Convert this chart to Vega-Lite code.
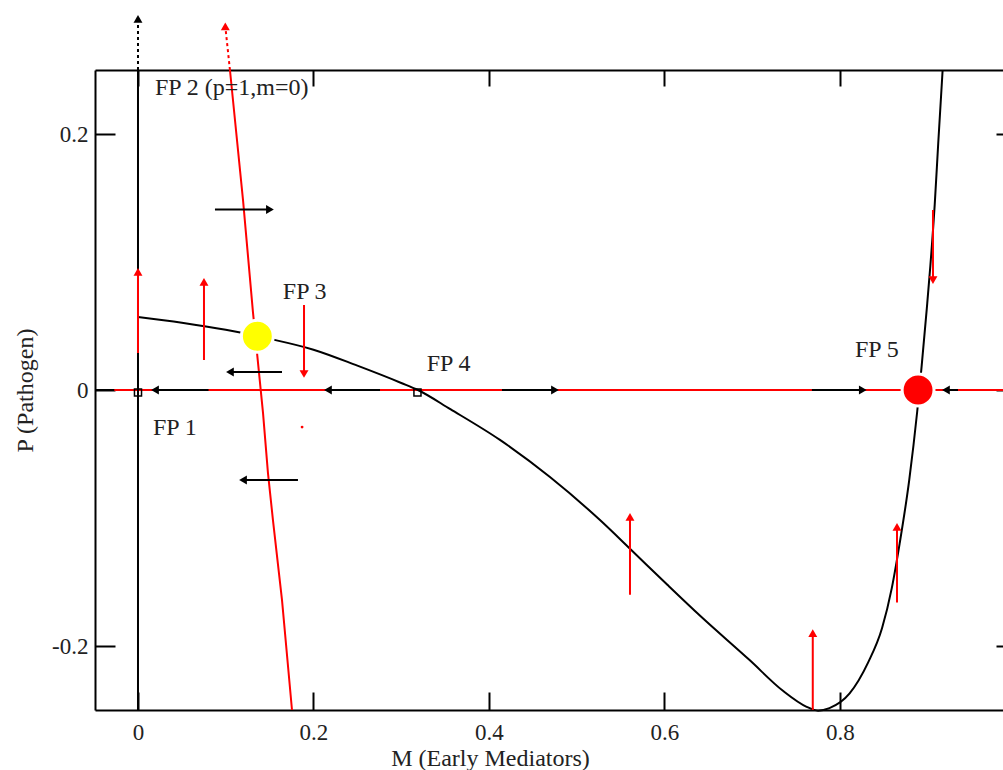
{
  "$schema": "https://vega.github.io/schema/vega-lite/v6.json",
  "width": 908,
  "height": 640,
  "autosize": {"type": "none"},
  "padding": {"left": 95, "top": 70, "right": 0, "bottom": 60},
  "background": "white",
  "config": {
    "view": {"stroke": null},
    "font": "Liberation Serif",
    "axis": {
      "grid": false,
      "domainColor": "black",
      "domainWidth": 2,
      "tickColor": "black",
      "tickWidth": 2,
      "labelFont": "Liberation Serif",
      "labelFontSize": 23,
      "labelColor": "#222222",
      "titleFont": "Liberation Serif",
      "titleFontSize": 24,
      "titleFontWeight": "normal",
      "titleColor": "#222222"
    }
  },
  "datasets": {
    "mcurve": [
      {"m": 0, "p": 0.057}, {"m": 0.05, "p": 0.0525}, {"m": 0.1, "p": 0.047},
      {"m": 0.15, "p": 0.04}, {"m": 0.2, "p": 0.0315}, {"m": 0.25, "p": 0.019},
      {"m": 0.3, "p": 0.0055}, {"m": 0.319, "p": 0},
      {"m": 0.356, "p": -0.015}, {"m": 0.4125, "p": -0.039}, {"m": 0.4695, "p": -0.068},
      {"m": 0.5265, "p": -0.1016}, {"m": 0.5607, "p": -0.124}, {"m": 0.603, "p": -0.152},
      {"m": 0.64, "p": -0.176}, {"m": 0.697, "p": -0.211}, {"m": 0.735, "p": -0.235},
      {"m": 0.762, "p": -0.2475}, {"m": 0.775, "p": -0.2505}, {"m": 0.788, "p": -0.2485},
      {"m": 0.811, "p": -0.237}, {"m": 0.832, "p": -0.213}, {"m": 0.848, "p": -0.186},
      {"m": 0.859, "p": -0.155}, {"m": 0.868, "p": -0.12}, {"m": 0.879, "p": -0.07},
      {"m": 0.888, "p": -0.017}, {"m": 0.8905, "p": 0}, {"m": 0.893, "p": 0.018},
      {"m": 0.899, "p": 0.064}, {"m": 0.903, "p": 0.097}, {"m": 0.908, "p": 0.145},
      {"m": 0.912, "p": 0.193}, {"m": 0.917, "p": 0.25}
    ],
    "pcurve": [
      {"m": 0.1048, "p": 0.25}, {"m": 0.1197, "p": 0.1484}, {"m": 0.1311, "p": 0.0602},
      {"m": 0.1425, "p": -0.018}, {"m": 0.1481, "p": -0.0648}, {"m": 0.1538, "p": -0.1016},
      {"m": 0.1641, "p": -0.164}, {"m": 0.1755, "p": -0.25}
    ],
    "arrows": [
      {"x": 0.0804, "y": 0, "x2": 0.0194, "y2": 0, "kind": "M", "dir": "left", "style": "solid"},
      {"x": 0.2758, "y": 0, "x2": 0.2165, "y2": 0, "kind": "M", "dir": "left", "style": "solid"},
      {"x": 0.4148, "y": 0, "x2": 0.4752, "y2": 0, "kind": "M", "dir": "right", "style": "solid"},
      {"x": 0.768, "y": 0, "x2": 0.826, "y2": 0, "kind": "M", "dir": "right", "style": "solid"},
      {"x": 0.9345, "y": 0, "x2": 0.9208, "y2": 0, "kind": "M", "dir": "left", "style": "solid"},
      {"x": 0.0877, "y": 0.141, "x2": 0.1504, "y2": 0.141, "kind": "M", "dir": "right", "style": "solid"},
      {"x": 0.1641, "y": 0.0141, "x2": 0.1048, "y2": 0.0141, "kind": "M", "dir": "left", "style": "solid"},
      {"x": 0.1823, "y": -0.0703, "x2": 0.1197, "y2": -0.0703, "kind": "M", "dir": "left", "style": "solid"},
      {"x": -0.049, "y": 0, "x2": -0.027, "y2": 0, "kind": "M", "dir": "none", "style": "solid"},
      {"x": 0, "y": 0.0289, "x2": 0, "y2": 0.0922, "kind": "P", "dir": "up", "style": "solid"},
      {"x": 0.0752, "y": 0.0234, "x2": 0.0752, "y2": 0.0844, "kind": "P", "dir": "up", "style": "solid"},
      {"x": 0.1892, "y": 0.0664, "x2": 0.1892, "y2": 0.0125, "kind": "P", "dir": "down", "style": "solid"},
      {"x": 0.5607, "y": -0.16, "x2": 0.5607, "y2": -0.0992, "kind": "P", "dir": "up", "style": "solid"},
      {"x": 0.769, "y": -0.25, "x2": 0.769, "y2": -0.19, "kind": "P", "dir": "up", "style": "solid"},
      {"x": 0.865, "y": -0.166, "x2": 0.865, "y2": -0.107, "kind": "P", "dir": "up", "style": "solid"},
      {"x": 0.906, "y": 0.1406, "x2": 0.906, "y2": 0.0859, "kind": "P", "dir": "down", "style": "solid"},
      {"x": 0, "y": 0.25, "x2": 0, "y2": 0.29, "kind": "M", "dir": "up", "style": "dotted"},
      {"x": 0.1048, "y": 0.25, "x2": 0.0995, "y2": 0.284, "kind": "P", "dir": "up", "style": "dotted"}
    ],
    "labels": [
      {"x": 0.0194, "y": 0.2305, "label": "FP 2 (p=1,m=0)"},
      {"x": 0.165, "y": 0.0711, "label": "FP 3"},
      {"x": 0.329, "y": 0.0148, "label": "FP 4"},
      {"x": 0.817, "y": 0.0258, "label": "FP 5"},
      {"x": 0.0171, "y": -0.0352, "label": "FP 1"}
    ],
    "fixed": [
      {"x": 0.136, "y": 0.042, "type": "saddle"},
      {"x": 0.889, "y": 0, "type": "stable"}
    ],
    "squares": [
      {"x": 0, "y": -0.002},
      {"x": 0.3185, "y": -0.002}
    ],
    "dots": [
      {"x": 0.187, "y": -0.029}
    ]
  },
  "layer": [
    {
      "data": {"values": [{"p": 0}]},
      "mark": {"type": "rule", "color": "#ff0000", "strokeWidth": 2},
      "encoding": {
        "y": {"field": "p", "type": "quantitative", "scale": {"domain": [-0.25, 0.25], "nice": false, "zero": false}, "axis": null}
      }
    },
    {
      "data": {"values": [{"m": 0}]},
      "mark": {"type": "rule", "color": "black", "strokeWidth": 2},
      "encoding": {
        "x": {"field": "m", "type": "quantitative", "scale": {"domain": [-0.049, 0.9858], "nice": false, "zero": false}, "axis": null}
      }
    },
    {
      "data": {"name": "mcurve"},
      "mark": {"type": "line", "color": "black", "strokeWidth": 2, "interpolate": "monotone"},
      "encoding": {
        "x": {"field": "m", "type": "quantitative", "scale": {"domain": [-0.049, 0.9858], "nice": false, "zero": false},
          "axis": {"orient": "bottom", "values": [0, 0.2, 0.4, 0.6, 0.8], "tickSize": -18, "labelPadding": 29,
            "labelFont": "Liberation Serif", "labelFontSize": 23, "titleFont": "Liberation Serif", "titleFontSize": 24,
            "labelExpr": "datum.value == 0 ? '0' : (datum.value < 0 ? '-' : '') + format(abs(datum.value), '.1f')",
            "title": "M (Early Mediators)", "titleX": 395, "titleY": 55, "titleBaseline": "alphabetic", "titleAlign": "center"}},
        "y": {"field": "p", "type": "quantitative", "scale": {"domain": [-0.25, 0.25], "nice": false, "zero": false},
          "axis": {"orient": "left", "values": [-0.2, 0, 0.2], "tickSize": -20, "labelPadding": 27,
            "labelFont": "Liberation Serif", "labelFontSize": 23, "titleFont": "Liberation Serif", "titleFontSize": 24,
            "labelExpr": "datum.value == 0 ? '0' : (datum.value < 0 ? '-' : '') + format(abs(datum.value), '.1f')",
            "title": "P (Pathogen)", "titleX": -70, "titleY": 320, "titleAngle": -90, "titleBaseline": "middle", "titleAlign": "center"}}
      }
    },
    {
      "data": {"name": "pcurve"},
      "mark": {"type": "line", "color": "#ff0000", "strokeWidth": 2},
      "encoding": {
        "x": {"field": "m", "type": "quantitative", "scale": {"domain": [-0.049, 0.9858], "nice": false, "zero": false},
          "axis": {"orient": "top", "values": [0, 0.2, 0.4, 0.6, 0.8], "tickSize": -16, "labels": false, "title": null}},
        "y": {"field": "p", "type": "quantitative", "scale": {"domain": [-0.25, 0.25], "nice": false, "zero": false},
          "axis": {"orient": "right", "values": [-0.2, 0, 0.2], "tickSize": -20, "labels": false, "title": null, "offset": 13}}
      }
    },
    {
      "data": {"name": "arrows"},
      "mark": {"type": "rule", "strokeWidth": 2},
      "encoding": {
        "x": {"field": "x", "type": "quantitative", "scale": {"domain": [-0.049, 0.9858], "nice": false, "zero": false}, "axis": null},
        "y": {"field": "y", "type": "quantitative", "scale": {"domain": [-0.25, 0.25], "nice": false, "zero": false}, "axis": null},
        "x2": {"field": "x2"},
        "y2": {"field": "y2"},
        "color": {"field": "kind", "type": "nominal", "scale": {"domain": ["M", "P"], "range": ["black", "#ff0000"]}, "legend": null},
        "strokeDash": {"field": "style", "type": "nominal", "scale": {"domain": ["solid", "dotted"], "range": [[1, 0], [3, 3]]}, "legend": null}
      }
    },
    {
      "data": {"name": "arrows"},
      "transform": [{"filter": "datum.dir != 'none'"}],
      "mark": {"type": "point", "filled": true, "size": 80, "opacity": 1},
      "encoding": {
        "x": {"field": "x2", "type": "quantitative", "scale": {"domain": [-0.049, 0.9858], "nice": false, "zero": false}, "axis": null},
        "y": {"field": "y2", "type": "quantitative", "scale": {"domain": [-0.25, 0.25], "nice": false, "zero": false}, "axis": null},
        "color": {"field": "kind", "type": "nominal", "scale": {"domain": ["M", "P"], "range": ["black", "#ff0000"]}, "legend": null},
        "shape": {"field": "dir", "type": "nominal", "scale": {"domain": ["left", "right", "up", "down"], "range": ["triangle-left", "triangle-right", "triangle-up", "triangle-down"]}, "legend": null}
      }
    },
    {
      "data": {"name": "squares"},
      "mark": {"type": "point", "shape": "square", "filled": false, "size": 50, "stroke": "black", "strokeWidth": 1.5, "opacity": 1},
      "encoding": {
        "x": {"field": "x", "type": "quantitative", "scale": {"domain": [-0.049, 0.9858], "nice": false, "zero": false}, "axis": null},
        "y": {"field": "y", "type": "quantitative", "scale": {"domain": [-0.25, 0.25], "nice": false, "zero": false}, "axis": null}
      }
    },
    {
      "data": {"name": "dots"},
      "mark": {"type": "point", "shape": "circle", "filled": true, "size": 8, "color": "#ff0000", "opacity": 1},
      "encoding": {
        "x": {"field": "x", "type": "quantitative", "scale": {"domain": [-0.049, 0.9858], "nice": false, "zero": false}, "axis": null},
        "y": {"field": "y", "type": "quantitative", "scale": {"domain": [-0.25, 0.25], "nice": false, "zero": false}, "axis": null}
      }
    },
    {
      "data": {"name": "fixed"},
      "mark": {"type": "point", "shape": "circle", "filled": true, "size": 1018, "stroke": "white", "strokeWidth": 3, "opacity": 1},
      "encoding": {
        "x": {"field": "x", "type": "quantitative", "scale": {"domain": [-0.049, 0.9858], "nice": false, "zero": false}, "axis": null},
        "y": {"field": "y", "type": "quantitative", "scale": {"domain": [-0.25, 0.25], "nice": false, "zero": false}, "axis": null},
        "fill": {"field": "type", "type": "nominal", "scale": {"domain": ["saddle", "stable"], "range": ["#ffff00", "#ff0000"]}, "legend": null}
      }
    },
    {
      "data": {"name": "labels"},
      "mark": {"type": "text", "align": "left", "baseline": "alphabetic", "font": "Liberation Serif", "fontSize": 24, "color": "#222222"},
      "encoding": {
        "x": {"field": "x", "type": "quantitative", "scale": {"domain": [-0.049, 0.9858], "nice": false, "zero": false}, "axis": null},
        "y": {"field": "y", "type": "quantitative", "scale": {"domain": [-0.25, 0.25], "nice": false, "zero": false}, "axis": null},
        "text": {"field": "label", "type": "nominal"}
      }
    }
  ],
  "resolve": {"axis": {"x": "independent", "y": "independent"}}
}
